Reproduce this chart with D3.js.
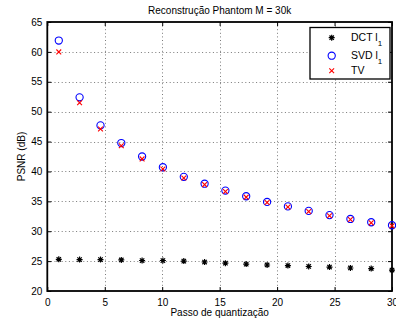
<!DOCTYPE html>
<html>
<head>
<meta charset="utf-8">
<script src="https://cdn.jsdelivr.net/npm/d3@7"></script>
<style>
  body { margin: 0; background: #fff; }
  svg { display: block; font-family: "Liberation Sans", Arial, sans-serif; }
</style>
</head>
<body>
<svg id="chart"></svg>
<script>
// quantization step values
const passo = [1, 2.81, 4.63, 6.44, 8.25, 10.06, 11.88, 13.69, 15.5, 17.31, 19.13, 20.94, 22.75, 24.56, 26.38, 28.19, 30];
const dctL1 = [25.3, 25.25, 25.25, 25.2, 25.1, 25.1, 25.0, 24.85, 24.65, 24.5, 24.35, 24.25, 24.1, 24.0, 23.85, 23.75, 23.5];
const svdL1 = [61.9, 52.4, 47.7, 44.75, 42.5, 40.7, 39.1, 37.95, 36.8, 35.85, 34.9, 34.15, 33.4, 32.7, 32.05, 31.5, 31.0];
const tv = [60.0, 51.5, 47.1, 44.3, 42.1, 40.4, 38.9, 37.8, 36.65, 35.7, 34.8, 34.05, 33.3, 32.6, 31.95, 31.4, 30.9];
const xTicks = [0, 5, 10, 15, 20, 25, 30];
const yTicks = [20, 25, 30, 35, 40, 45, 50, 55, 60, 65];

const width = 396, height = 320;
const margin = { left: 47.3, right: 392, top: 22, bottom: 291 };

const svg = d3.select("#chart").attr("width", width).attr("height", height);

const x = d3.scaleLinear().domain([0, 30]).range([margin.left, margin.right]);
const y = d3.scaleLinear().domain([20, 65]).range([margin.bottom, margin.top]);

// grid
const grid = svg.append("g")
  .attr("stroke", "#7a7a7a")
  .attr("stroke-width", 1)
  .attr("stroke-dasharray", "1,2.6");
grid.selectAll(".gx").data(xTicks.slice(1, -1)).enter().append("line")
  .attr("x1", d => Math.round(x(d)) + 0.5).attr("x2", d => Math.round(x(d)) + 0.5)
  .attr("y1", margin.top).attr("y2", margin.bottom);
grid.selectAll(".gy").data(yTicks.slice(1, -1)).enter().append("line")
  .attr("y1", d => Math.round(y(d)) + 0.5).attr("y2", d => Math.round(y(d)) + 0.5)
  .attr("x1", margin.left).attr("x2", margin.right);

// axes (ticks inward, labels outside)
const fmt = d3.format("d");
svg.append("g")
  .attr("transform", `translate(0,${margin.bottom})`)
  .call(d3.axisBottom(x).tickValues(xTicks).tickFormat(fmt).tickSizeInner(-4).tickSizeOuter(0).tickPadding(8))
  .call(g => g.select(".domain").remove());
svg.append("g")
  .attr("transform", `translate(0,${margin.top})`)
  .call(d3.axisTop(x).tickValues(xTicks).tickFormat("").tickSizeInner(-4).tickSizeOuter(0))
  .call(g => g.select(".domain").remove());
svg.append("g")
  .attr("transform", `translate(${margin.left},0)`)
  .call(d3.axisLeft(y).tickValues(yTicks).tickFormat(fmt).tickSizeInner(-4).tickSizeOuter(0).tickPadding(5))
  .call(g => g.select(".domain").remove());
svg.append("g")
  .attr("transform", `translate(${margin.right},0)`)
  .call(d3.axisRight(y).tickValues(yTicks).tickFormat("").tickSizeInner(-4).tickSizeOuter(0))
  .call(g => g.select(".domain").remove());

svg.selectAll(".tick text")
  .attr("font-size", 10)
  .attr("fill", "#000")
  .attr("font-family", "Liberation Sans, Arial, sans-serif");

svg.append("rect")
  .attr("x", margin.left).attr("y", margin.top)
  .attr("width", margin.right - margin.left).attr("height", margin.bottom - margin.top)
  .attr("fill", "none").attr("stroke", "#000").attr("stroke-width", 1.8);

// markers
const starPath = "M-3,0L3,0M0,-3L0,3M-2.2,-2.2L2.2,2.2M-2.2,2.2L2.2,-2.2";
const crossPath = "M-2.4,-2.4L2.4,2.4M-2.4,2.4L2.4,-2.4";

svg.append("g").selectAll("path").data(passo).enter().append("path")
  .attr("transform", (d, i) => `translate(${x(d)},${y(dctL1[i])})`)
  .attr("d", starPath).attr("stroke", "#000").attr("stroke-width", 1.2).attr("fill", "none");

svg.append("g").selectAll("circle").data(passo).enter().append("circle")
  .attr("cx", d => x(d)).attr("cy", (d, i) => y(svdL1[i]))
  .attr("r", 3.6).attr("fill", "none").attr("stroke", "#0000ff").attr("stroke-width", 1.1);

svg.append("g").selectAll("path").data(passo).enter().append("path")
  .attr("transform", (d, i) => `translate(${x(d)},${y(tv[i])})`)
  .attr("d", crossPath).attr("stroke", "#ff0000").attr("stroke-width", 1.1).attr("fill", "none");

// labels
svg.append("text")
  .attr("x", (margin.left + margin.right) / 2).attr("y", 13.5)
  .attr("text-anchor", "middle").attr("font-size", 10)
  .text("Reconstrução Phantom M = 30k");
svg.append("text")
  .attr("x", (margin.left + margin.right) / 2).attr("y", 316)
  .attr("text-anchor", "middle").attr("font-size", 10)
  .text("Passo de quantização");
svg.append("text")
  .attr("transform", `translate(25,${(margin.top + margin.bottom) / 2}) rotate(-90)`)
  .attr("text-anchor", "middle").attr("font-size", 10)
  .text("PSNR (dB)");

// legend
const legend = svg.append("g");
legend.append("rect")
  .attr("x", 310).attr("y", 27.5).attr("width", 80).attr("height", 51.5)
  .attr("fill", "#fff").attr("stroke", "#000").attr("stroke-width", 1.3);
const legendItems = [
  { label: "DCT l", sub: "1", y: 37.7, kind: "star" },
  { label: "SVD l", sub: "1", y: 55.7, kind: "circle" },
  { label: "TV", sub: "", y: 70.7, kind: "cross" }
];
legendItems.forEach(it => {
  if (it.kind === "star") {
    legend.append("path").attr("transform", `translate(331.7,${it.y})`).attr("d", starPath)
      .attr("stroke", "#000").attr("stroke-width", 1.2).attr("fill", "none");
  } else if (it.kind === "circle") {
    legend.append("circle").attr("cx", 331.7).attr("cy", it.y).attr("r", 3.6)
      .attr("fill", "none").attr("stroke", "#0000ff").attr("stroke-width", 1.1);
  } else {
    legend.append("path").attr("transform", `translate(331.7,${it.y})`).attr("d", crossPath)
      .attr("stroke", "#ff0000").attr("stroke-width", 1.1).attr("fill", "none");
  }
  const t = legend.append("text").attr("x", 351).attr("y", it.y + 2.8).attr("font-size", 10.5).text(it.label);
  if (it.sub) {
    t.append("tspan").attr("dy", 5).attr("font-size", 8).text(it.sub);
  }
});
</script>
</body>
</html>
